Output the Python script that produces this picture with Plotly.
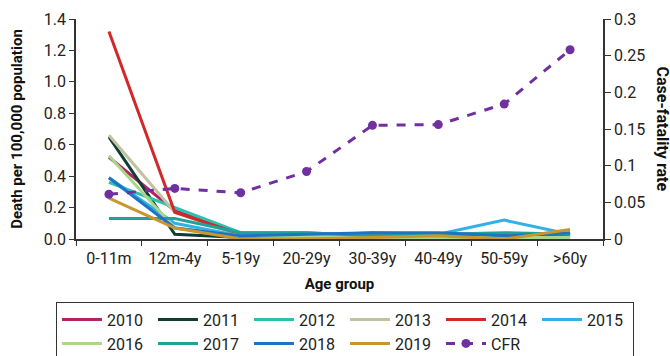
import plotly.graph_objects as go

# Age groups on the x axis
age_groups = ["0-11m", "12m-4y", "5-19y", "20-29y", "30-39y", "40-49y", "50-59y", ">60y"]

# Deaths per 100,000 population, one list per year
y2010 = [0.52, 0.18, 0.03, 0.02, 0.02, 0.03, 0.02, 0.03]
y2011 = [0.65, 0.03, 0.01, 0.01, 0.02, 0.02, 0.02, 0.02]
y2012 = [0.36, 0.20, 0.04, 0.04, 0.02, 0.03, 0.03, 0.02]
y2013 = [0.66, 0.17, 0.02, 0.01, 0.01, 0.01, 0.01, 0.01]
y2014 = [1.32, 0.17, 0.03, 0.02, 0.02, 0.02, 0.02, 0.02]
y2015 = [0.39, 0.10, 0.02, 0.02, 0.04, 0.03, 0.12, 0.03]
y2016 = [0.53, 0.07, 0.02, 0.02, 0.01, 0.01, 0.01, 0.01]
y2017 = [0.13, 0.13, 0.04, 0.04, 0.02, 0.03, 0.04, 0.03]
y2018 = [0.39, 0.07, 0.02, 0.03, 0.04, 0.04, 0.02, 0.04]
y2019 = [0.26, 0.07, 0.00, 0.00, 0.01, 0.02, 0.00, 0.06]

# Case-fatality rate (right axis)
cfr = [0.061, 0.069, 0.063, 0.092, 0.155, 0.156, 0.184, 0.258]

years = ["2010", "2011", "2012", "2013", "2014", "2015", "2016", "2017", "2018", "2019"]
series = [y2010, y2011, y2012, y2013, y2014, y2015, y2016, y2017, y2018, y2019]
colors = ["#b3245f", "#0f3d34", "#2bc2ad", "#c2c1a0", "#d0282b", "#33b1e6",
          "#a9d68b", "#1ea39a", "#1f73c6", "#c9962c"]

fig = go.Figure()
for name, vals, col in zip(years, series, colors):
    fig.add_trace(go.Scatter(
        x=age_groups, y=vals, name=name, mode="lines",
        line=dict(color=col, width=3),
    ))

fig.add_trace(go.Scatter(
    x=age_groups, y=cfr, name="CFR", mode="lines+markers", yaxis="y2",
    line=dict(color="#7030a0", width=3, dash="dash"),
    marker=dict(color="#7030a0", size=9),
))

axis_font = dict(family="Roboto", size=16, color="#222")
title_font = dict(family="Roboto", size=15, color="#111", weight="bold")

fig.update_layout(
    width=670, height=356,
    margin=dict(l=76, r=67, t=19, b=117, autoexpand=False),
    paper_bgcolor="white", plot_bgcolor="white",
    font=dict(family="Roboto", color="#222"),
    xaxis=dict(
        type="category", range=[-0.5, 7.5],
        showline=True, linecolor="#333", linewidth=1.5,
        ticks="outside", tickson="boundaries", ticklen=5, tickcolor="#333",
        tickfont=axis_font, showgrid=False, ticklabelstandoff=4,
        title=dict(text="Age group", font=title_font, standoff=12),
    ),
    yaxis=dict(
        range=[0, 1.4], dtick=0.2, tickformat=".1f",
        showline=True, linecolor="#333", linewidth=1.5,
        ticks="outside", ticklen=5, tickcolor="#333",
        tickfont=axis_font, showgrid=False, zeroline=False,
        title=dict(text="Death per 100,000 population", font=title_font, standoff=18),
    ),
    yaxis2=dict(
        overlaying="y", side="right", range=[0, 0.3], dtick=0.05,
        showline=True, linecolor="#333", linewidth=1.5,
        ticks="outside", ticklen=6, tickcolor="#333",
        tickfont=axis_font, showgrid=False, zeroline=False,
    ),
    legend=dict(
        orientation="h", x=-0.038, xanchor="left", y=-0.285, yanchor="top",
        font=dict(family="Roboto", size=16, color="#222"),
        bordercolor="#333", borderwidth=1,
        entrywidth=41, entrywidthmode="pixels",
        tracegroupgap=0, itemwidth=40,
    ),
    annotations=[dict(
        text="<b>Case-fatality rate</b>", textangle=90,
        xref="paper", yref="paper", x=1.0, y=0.5, xshift=71,
        showarrow=False, font=dict(family="Roboto", size=16, color="#111"),
    )],
)

fig.write_html("out.html")
